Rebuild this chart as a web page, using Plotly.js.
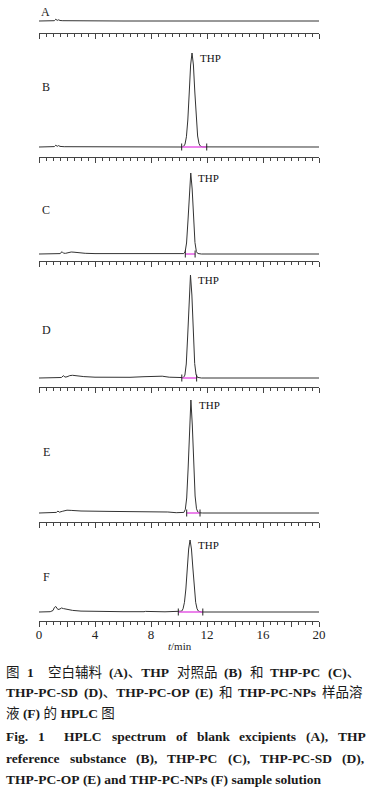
<!DOCTYPE html>
<html>
<head>
<meta charset="utf-8">
<script src="https://cdn.plot.ly/plotly-3.0.1.min.js"></script>
<style>
html,body{margin:0;padding:0;background:#fff;}
#chart{width:367px;height:798px;}
</style>
</head>
<body>
<div id="chart"></div>
<script>
// ---- data (retention time in min, detector response in arbitrary units) ----
const panelLabels = ['A', 'B', 'C', 'D', 'E', 'F'];
const peakName = 'THP';

const tA = [0, 0.8, 1.1, 1.2, 1.3, 1.4, 1.5, 1.7, 2.2, 3, 6, 10, 14, 20];
const yA = [0, 0, 0.3, 1.8, 0.6, 1.2, 0.5, 0.3, 0.2, 0, 0, 0, 0, 0];

const tB = [0, 0.9, 1.1, 1.2, 1.3, 1.4, 1.5, 1.8, 3, 6, 9, 10.2, 10.33, 10.43, 10.53, 10.63, 10.73, 10.83, 10.93, 11.03, 11.13, 11.23, 11.33, 11.43, 11.53, 11.7, 13, 16, 20];
const yB = [0, 0, 0.4, 1.8, 0.7, 1.4, 0.6, 0.3, 0.2, 0.1, 0, 0, 0.6, 2.9, 10.2, 27, 54, 82, 94, 82, 55, 28, 11, 3.3, 0.8, 0.1, 0, 0, 0];

const tC = [0, 1.2, 1.5, 1.65, 1.75, 1.9, 2.1, 2.3, 2.5, 2.8, 3.3, 4, 6, 9, 10.2, 10.34, 10.44, 10.54, 10.64, 10.74, 10.84, 10.94, 11.04, 11.14, 11.24, 11.34, 11.6, 14, 20];
const yC = [0, 0.2, 0.4, 2.3, 0.8, 0.7, 1.4, 2.0, 1.8, 1.2, 0.7, 0.4, 0.2, 0.1, 0, 0.4, 2.3, 11, 33, 65, 81, 65, 34, 11.5, 2.5, 0.5, 0, 0, 0];

const tD = [0, 1.2, 1.6, 1.75, 1.85, 2.0, 2.2, 2.4, 2.7, 3.2, 4, 5.5, 6.5, 7.5, 8.3, 8.8, 9.3, 10.0, 10.32, 10.42, 10.52, 10.62, 10.72, 10.82, 10.92, 11.02, 11.12, 11.22, 11.32, 11.6, 14, 20];
const yD = [0, 0.2, 0.5, 2.4, 0.9, 1.2, 2.4, 2.7, 2.2, 1.4, 0.8, 0.5, 0.7, 1.3, 2.0, 1.8, 0.8, 0.3, 0.4, 2.9, 14, 42, 82, 103, 83, 43, 14.5, 3.2, 0.6, 0, 0, 0];

const tE = [0, 1.0, 1.25, 1.35, 1.45, 1.7, 2.0, 2.3, 3, 5, 7, 8.5, 9.2, 9.8, 10.25, 10.35, 10.45, 10.55, 10.65, 10.75, 10.85, 10.95, 11.05, 11.15, 11.25, 11.35, 11.45, 11.7, 14, 20];
const yE = [0, 0.3, 0.6, 2.0, 0.8, 1.8, 2.8, 2.6, 2.0, 1.6, 1.4, 1.6, 1.0, 0.3, 0.3, 0.6, 3.5, 15, 44, 86, 113, 88, 47, 17, 4.2, 0.9, 0.2, 0, 0, 0];

const tF = [0, 0.8, 1.0, 1.1, 1.2, 1.35, 1.5, 1.6, 1.75, 2.0, 2.4, 3.0, 4, 5.0, 5.1, 6, 7.5, 7.6, 9, 10.0, 10.19, 10.29, 10.39, 10.49, 10.59, 10.69, 10.79, 10.89, 10.99, 11.09, 11.19, 11.29, 11.39, 11.6, 14, 20];
const yF = [0, 0.3, 1.5, 4.5, 5.5, 2.5, 3.0, 4.0, 3.4, 2.5, 1.6, 0.9, 0.5, 0.4, 0.8, 0.3, 0.3, 0.6, 0.2, 0.1, 0.8, 3.2, 9.7, 23, 44, 63, 72, 63, 44, 23, 9.7, 3.2, 0.8, 0, 0, 0];

const times = [tA, tB, tC, tD, tE, tF];
const signals = [yA, yB, yC, yD, yE, yF];

// peak apex (time, height) and integration window, per panel (null for blank)
const peakTime   = [null, 10.93, 10.84, 10.82, 10.85, 10.79];
const peakHeight = [null, 94, 81, 103, 113, 72];
const intStart   = [null, 10.19, 10.45, 10.2, 10.55, 9.95];
const intEnd     = [null, 11.98, 11.15, 11.26, 11.5, 11.7];

const tickVals = [0, 2, 4, 6, 8, 10, 12, 14, 16, 18, 20];
const tickText = ['0', '', '4', '', '8', '', '12', '', '16', '', '20'];
const xTitle = '<i>t</i>/min';

// caption: words separated by spaces, '' = extra gap
const captionLines = [
  '图 <b>1</b>  空白辅料 <b>(A)</b>、<b>THP</b> 对照品 <b>(B)</b> 和 <b>THP-PC</b> <b>(C)</b>、',
  '<b>THP-PC-SD</b> <b>(D)</b>、<b>THP-PC-OP</b> <b>(E)</b> 和 <b>THP-PC-NPs</b> 样品溶',
  '液 <b>(F)</b> 的 <b>HPLC</b> 图',
  '<b>Fig.</b> <b>1</b>  <b>HPLC</b> <b>spectrum</b> <b>of</b> <b>blank</b> <b>excipients</b> <b>(A),</b> <b>THP</b>',
  '<b>reference</b> <b>substance</b> <b>(B),</b> <b>THP-PC</b> <b>(C),</b> <b>THP-PC-SD</b> <b>(D),</b>',
  '<b>THP-PC-OP</b> <b>(E)</b> <b>and</b> <b>THP-PC-NPs</b> <b>(F)</b> <b>sample</b> <b>solution</b>'
];

// ---- layout geometry (pixels in the 367x798 frame) ----
const W = 367, H = 798;
const plotLeft = 39, plotRight = 319;
const axisPx = [32.5, 157, 261, 387, 522, 621];
const basePx = [21, 147, 254, 378, 513, 612];
const topPx  = [8, 45, 165, 268, 392, 532];
const labelPx = [[45, 12], [46, 87], [46, 210], [46, 330], [46, 452], [46, 577]];
const captionY = [672, 692, 713, 736, 758, 779];
const captionRight = [358, 360, null, 364, 362, null];
const captionLeft = 4;
const capSize = 13.5;

const fx = px => px / W;
const fy = py => 1 - py / H;

const serif = 'Liberation Serif, Times New Roman, serif';
const capFamily = 'Liberation Serif, Noto Sans CJK SC, serif';
const lineCol = '#333';

const traces = [];
const layout = {
  width: W, height: H,
  margin: {l: 0, r: 0, t: 0, b: 0},
  paper_bgcolor: '#fff', plot_bgcolor: '#fff',
  showlegend: false,
  annotations: []
};

for (let i = 0; i < 6; i++) {
  const k = i === 0 ? '' : String(i + 1);
  const xa = 'x' + k, ya = 'y' + k;
  traces.push({
    x: times[i], y: signals[i], xaxis: xa, yaxis: ya,
    type: 'scatter', mode: 'lines',
    line: {color: lineCol, width: 1}, hoverinfo: 'skip'
  });
  if (intStart[i] !== null) {
    traces.push({
      x: [intStart[i], intEnd[i]], y: [0, 0], xaxis: xa, yaxis: ya,
      type: 'scatter', mode: 'lines',
      line: {color: '#e55ae5', width: 1.5}, hoverinfo: 'skip'
    });
    traces.push({
      x: [intStart[i], intEnd[i]], y: [0, 0], xaxis: xa, yaxis: ya,
      type: 'scatter', mode: 'markers',
      marker: {symbol: 'line-ns-open', size: 5, color: '#222', line: {color: '#222', width: 1}},
      hoverinfo: 'skip', cliponaxis: false
    });
    layout.annotations.push({
      xref: xa, yref: ya, x: peakTime[i] + 0.4, y: peakHeight[i] - 5,
      text: peakName, showarrow: false, xanchor: 'left', yanchor: 'middle',
      font: {family: serif, size: 11, color: '#111'}
    });
  }
  const gap = axisPx[i] - basePx[i];
  const span = basePx[i] - topPx[i];
  layout['xaxis' + k] = {
    domain: [fx(plotLeft), fx(plotRight)], range: [0, 20], anchor: ya,
    showline: true, linecolor: '#444', linewidth: 1,
    ticks: 'outside', tickmode: 'array', tickvals: tickVals, ticktext: tickText,
    ticklen: 5, tickcolor: '#444', tickwidth: 1,
    minor: {tickmode: 'linear', tick0: 0, dtick: 0.5, ticks: 'outside', ticklen: 3, tickcolor: '#444', tickwidth: 1, showgrid: false},
    showgrid: false, zeroline: false,
    showticklabels: i === 5,
    ticklabelstandoff: -4,
    tickfont: {family: serif, size: 13, color: '#222'},
    fixedrange: true
  };
  layout['yaxis' + k] = {
    domain: [fy(axisPx[i]), fy(topPx[i])], range: [-gap, span], anchor: xa,
    visible: false, fixedrange: true
  };
  layout.annotations.push({
    xref: 'paper', yref: 'paper', x: fx(labelPx[i][0]), y: fy(labelPx[i][1]),
    text: panelLabels[i], showarrow: false, xanchor: 'center', yanchor: 'middle',
    font: {family: serif, size: 12, color: '#222'}
  });
}

layout.annotations.push({
  xref: 'paper', yref: 'paper', x: fx(180), y: fy(646),
  text: xTitle, showarrow: false, xanchor: 'center', yanchor: 'middle',
  font: {family: serif, size: 11, color: '#222'}
});

// ---- caption with justified lines (word widths measured on a canvas) ----
const ctx = document.createElement('canvas').getContext('2d');
function tokenWidth(tok) {
  const parts = tok.split(/(<b>|<\/b>)/);
  let bold = false, w = 0;
  parts.forEach(p => {
    if (p === '<b>') { bold = true; return; }
    if (p === '</b>') { bold = false; return; }
    if (!p) return;
    ctx.font = (bold ? 'bold ' : '') + capSize + 'px "Liberation Serif", "Noto Sans CJK SC", serif';
    w += ctx.measureText(p).width;
  });
  return w;
}
function addCaptionText(txt, px, py) {
  layout.annotations.push({
    xref: 'paper', yref: 'paper', x: fx(px), y: fy(py),
    text: txt, showarrow: false, xanchor: 'left', yanchor: 'middle',
    font: {family: capFamily, size: capSize, color: '#1a1a1a'}
  });
}
captionLines.forEach((line, j) => {
  const toks = line.split(' ');
  if (captionRight[j] === null) {
    addCaptionText(line.split(' ').join('\u00a0'), captionLeft, captionY[j]);
    return;
  }
  const widths = toks.map(tokenWidth);
  const total = widths.reduce((a, b) => a + b, 0);
  const g = (captionRight[j] - captionLeft - total) / (toks.length - 1);
  let x = captionLeft;
  toks.forEach((t, n) => {
    if (t) addCaptionText(t, x, captionY[j]);
    x += widths[n] + g;
  });
});

Plotly.newPlot('chart', traces, layout, {staticPlot: true, displayModeBar: false});
</script>
</body>
</html>
